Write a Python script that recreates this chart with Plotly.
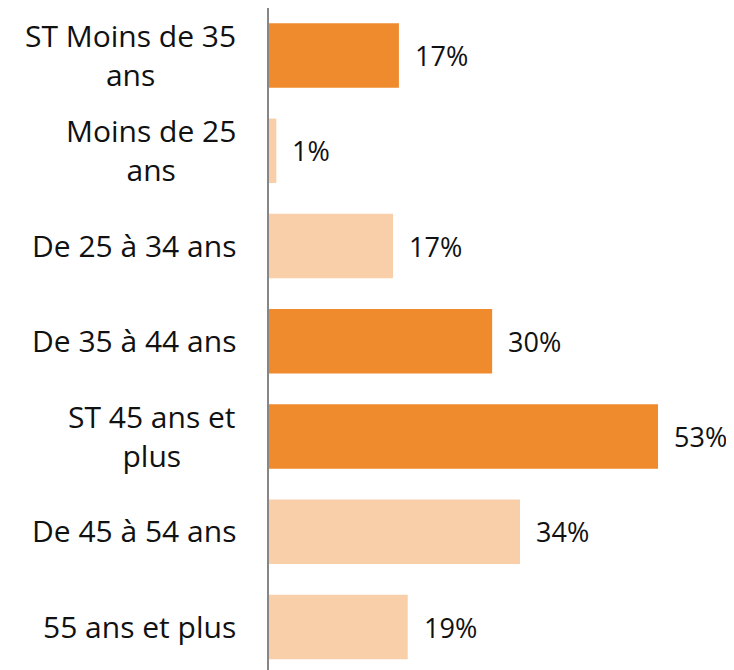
import plotly.graph_objects as go

categories = ["ST Moins de 35<br>ans", "Moins de 25<br>ans", "De 25 à 34 ans", "De 35 à 44 ans",
              "ST 45 ans et<br>plus", "De 45 à 54 ans", "55 ans et plus"]
values = [17.7, 1.0, 16.9, 30.4, 53.0, 34.2, 18.9]
value_labels = ["17%", "1%", "17%", "30%", "53%", "34%", "19%"]
is_subtotal = [True, False, False, True, True, False, False]

DARK = "#EF8A2D"
LIGHT = "#F8CFA9"
FONT = "Open Sans"
colors = [DARK if s else LIGHT for s in is_subtotal]
ypos = list(range(len(categories)))

fig = go.Figure(go.Bar(
    x=values, y=ypos, orientation="h",
    marker=dict(color=colors, line=dict(width=0)),
    width=0.677, hoverinfo="skip",
))

for yi, v, lab, cat in zip(ypos, values, value_labels, categories):
    fig.add_annotation(x=v, y=yi, xref="x", yref="y", text=lab, showarrow=False,
                       xanchor="left", xshift=14, font=dict(family=FONT, size=27, color="#111111"))
    fig.add_annotation(x=0, y=yi, xref="x", yref="y", text=cat, showarrow=False,
                       xanchor="right", xshift=-31, yshift=1, align="center",
                       font=dict(family=FONT, size=30, color="#111111"))

# page body has an 8px margin, so the figure is 8px smaller and offsets are reduced by 8
fig.update_layout(
    width=726, height=662,
    margin=dict(l=261, r=0, t=0, b=0),
    plot_bgcolor="white", paper_bgcolor="white",
    showlegend=False,
    xaxis=dict(range=[0, 465 / 7.34], visible=False, fixedrange=True),
    yaxis=dict(range=[6.451, -0.499], showticklabels=False, showgrid=False, zeroline=False,
               showline=True, linecolor="#868686", linewidth=2, ticks=""),
)

fig.write_html("out.html")
